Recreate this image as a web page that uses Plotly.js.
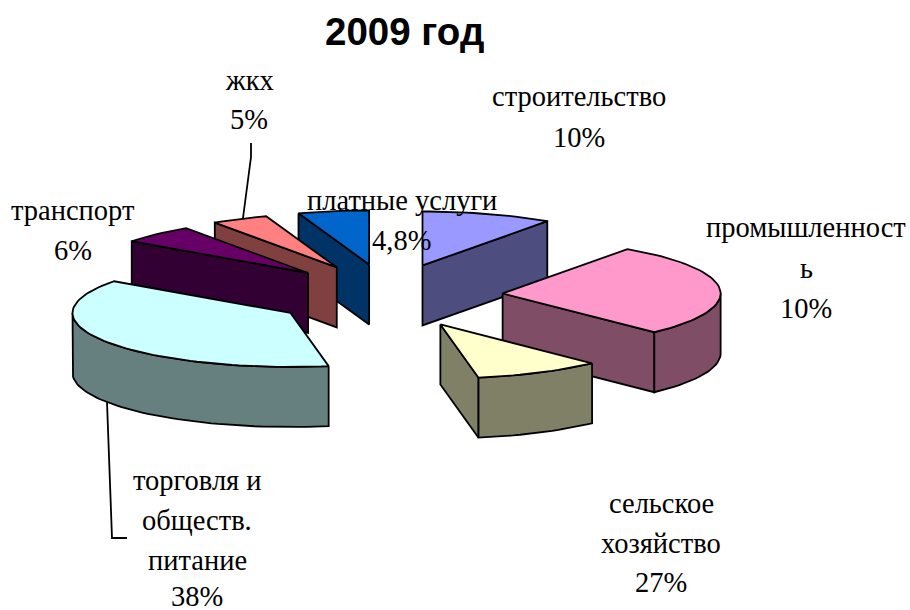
<!DOCTYPE html>
<html><head><meta charset="utf-8">
<script src="https://cdn.plot.ly/plotly-3.0.1.min.js"></script>
<style>html,body{margin:0;padding:0;background:#fff}#c{width:910px;height:610px}</style></head>
<body><div id="c"></div>
<script>
// Slices in clockwise order from 12 o'clock
const sliceNames = ['строительство','промышленность','сельское хозяйство','торговля и общепит','транспорт','жкх','платные услуги'];
const sliceShares = [9.7, 28.05, 9.45, 37.8, 5.55, 4.2, 5.25];
const topColors  = ['#9999FF','#FF99CC','#FFFFCC','#CCFFFF','#660066','#FF8080','#0066CC'];
const sideColors = ['#4D4D80','#804D66','#808066','#668080','#330033','#804040','#003366'];
const drawOrder = [6,5,4,0,1,2,3];

// Printed labels: one entry per text line
const labelLines = ['строительство','10%','промышленност','ь','10%','сельское','хозяйство','27%',
  'торговля и','обществ.','питание','38%','транспорт','6%','жкх','5%','платные услуги','4,8%'];
const labelX = [579,579,806,806,806,661,661,661,197,197,197,197,73,73,249,249,402,401];
const labelY = [96,137,227,268,308,503,543,582,480,520,560,596,210,250,80,119,200,240];
const titleText = '2009 год';

// Projection
const CX=388, CY=296, R=218, KY=54, EX=115, EY=32, DEPTH=60;
const rad=d=>d*Math.PI/180;
const pt=(c,a)=>[c[0]+R*Math.sin(rad(a)), c[1]-KY*Math.cos(rad(a))];
const traces=[];
function poly(pts,fill){
  traces.push({type:'scatter',mode:'lines',x:[...pts.map(p=>p[0]),pts[0][0]],y:[...pts.map(p=>p[1]),pts[0][1]],
    fill:'toself',fillcolor:fill,line:{color:'#000',width:1.8},hoverinfo:'skip',showlegend:false});
}
function arc(c,a0,a1){const n=Math.max(2,Math.ceil((a1-a0)/2));const o=[];for(let i=0;i<=n;i++)o.push(pt(c,a0+(a1-a0)*i/n));return o;}
const total=sliceShares.reduce((s,v)=>s+v,0);
let cum=0;
const angles=sliceShares.map(v=>{const a0=cum/total*360;cum+=v;return [a0,cum/total*360];});
const down=p=>[p[0],p[1]+DEPTH];
drawOrder.forEach(i=>{
  const [a0,a1]=angles[i], mid=(a0+a1)/2;
  const c=[CX+EX*Math.sin(rad(mid)),CY-EY*Math.cos(rad(mid))];
  if(Math.sin(rad(a0))<0){const e=pt(c,a0);poly([c,e,down(e),down(c)],sideColors[i]);}
  if(Math.sin(rad(a1))>0){const e=pt(c,a1);poly([c,e,down(e),down(c)],sideColors[i]);}
  const s=Math.max(a0,90), t=Math.min(a1,270);
  if(t>s){const top=arc(c,s,t);poly([...top,...top.slice().reverse().map(down)],sideColors[i]);}
  poly([c,...arc(c,a0,a1)],topColors[i]);
});
// Leader lines
const leaderX=[[251,251,243],[107,112,127]], leaderY=[[143,157,218],[402,538,538]];
leaderX.forEach((x,i)=>traces.push({type:'scatter',mode:'lines',x:x,y:leaderY[i],line:{color:'#000',width:1.8},hoverinfo:'skip',showlegend:false}));

const annotations=labelLines.map((t,i)=>({text:t,x:labelX[i],y:labelY[i],xref:'x',yref:'y',showarrow:false,
  xanchor:'center',yanchor:'middle',font:{family:'"Liberation Serif",serif',size:28.5,color:'#000'}}));
annotations.push({text:'<b>'+titleText+'</b>',x:404,y:31,xref:'x',yref:'y',showarrow:false,xanchor:'center',yanchor:'middle',
  font:{family:'"Liberation Sans",sans-serif',size:38.5,color:'#000'}});
const ax=r=>({range:r,visible:false,fixedrange:true});
Plotly.newPlot('c',traces,{width:910,height:610,margin:{l:0,r:0,t:0,b:0},paper_bgcolor:'#fff',plot_bgcolor:'#fff',
  xaxis:ax([0,910]),yaxis:ax([610,0]),showlegend:false,annotations:annotations},{displayModeBar:false,staticPlot:true});
</script></body></html>
